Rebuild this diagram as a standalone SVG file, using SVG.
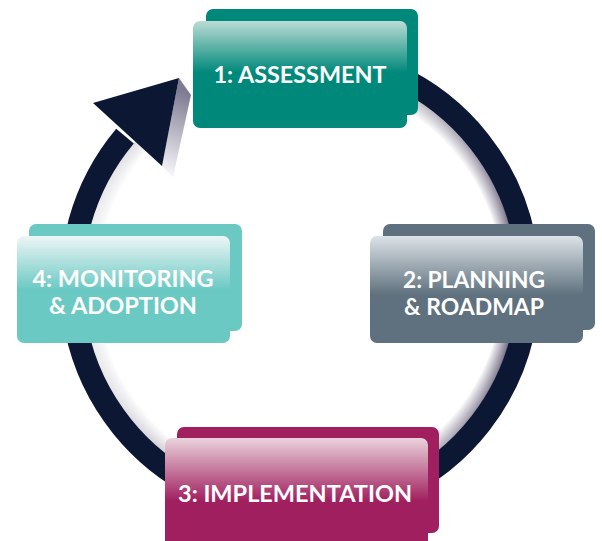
<svg xmlns="http://www.w3.org/2000/svg" width="602" height="541" viewBox="0 0 602 541">
  <defs>
    <style>
      .lbl { font-family: Lato, "Open Sans", "Liberation Sans", sans-serif; font-weight: 700; font-size: 23px; fill: #ffffff; text-anchor: middle; }
      .ring { fill: none; stroke: #0c1734; stroke-width: 23; }
    </style>
    <radialGradient id="bandGrad" gradientUnits="userSpaceOnUse" cx="300" cy="283" r="217">
      <stop offset="0.93" stop-color="#ffffff"/>
      <stop offset="1" stop-color="#544c68"/>
    </radialGradient>
    <radialGradient id="maskGrad" gradientUnits="userSpaceOnUse" cx="560" cy="290" r="480">
      <stop offset="0" stop-color="#ffffff"/>
      <stop offset="0.3" stop-color="#999999"/>
      <stop offset="0.5" stop-color="#5a5a5a"/>
      <stop offset="0.9" stop-color="#404040"/>
      <stop offset="1" stop-color="#151515"/>
    </radialGradient>
    <mask id="bandMask" maskUnits="userSpaceOnUse" x="0" y="0" width="602" height="541">
      <rect x="0" y="0" width="602" height="541" fill="url(#maskGrad)"/>
    </mask>
    <linearGradient id="shadowGrad" gradientUnits="userSpaceOnUse" x1="165" y1="170" x2="192" y2="95">
      <stop offset="0" stop-color="#f2f2f5"/>
      <stop offset="1" stop-color="#7f7b93"/>
    </linearGradient>
    <linearGradient id="g1" x1="0" y1="0" x2="0" y2="1">
      <stop offset="0" stop-color="#bcdcd5"/>
      <stop offset="0.48" stop-color="#00897b"/>
      <stop offset="1" stop-color="#00897b"/>
    </linearGradient>
    <linearGradient id="g2" x1="0" y1="0" x2="0" y2="1">
      <stop offset="0" stop-color="#dce3e7"/>
      <stop offset="0.55" stop-color="#5f717e"/>
      <stop offset="1" stop-color="#5f717e"/>
    </linearGradient>
    <linearGradient id="g3" x1="0" y1="0" x2="0" y2="1">
      <stop offset="0" stop-color="#ead3dc"/>
      <stop offset="0.55" stop-color="#a01f5f"/>
      <stop offset="1" stop-color="#a01f5f"/>
    </linearGradient>
    <linearGradient id="g4" x1="0" y1="0" x2="0" y2="1">
      <stop offset="0" stop-color="#edf6f6"/>
      <stop offset="0.5" stop-color="#6bc9c4"/>
      <stop offset="1" stop-color="#6bc9c4"/>
    </linearGradient>
  </defs>

  <rect x="0" y="0" width="602" height="541" fill="#ffffff"/>

  <g id="connectors">
    <g mask="url(#bandMask)">
      <path d="M300,73 A210,210 0 1 1 143.9,142.5" fill="none" stroke="url(#bandGrad)" stroke-width="15"/>
    </g>
    <path class="ring" d="M300,54.5 A228.5,228.5 0 1 1 125,136.1"/>
    <polygon points="179,78 191,95 173,177 162,166" fill="url(#shadowGrad)"/>
    <polygon points="179,78 93,103 162,166" fill="#0c1734"/>
  </g>

  <g id="node1">
    <rect x="206" y="9" width="212" height="106" rx="7" fill="#00897b"/>
    <rect x="193" y="21" width="214" height="107" rx="7" fill="url(#g1)"/>
    <text class="lbl" x="300" y="83" textLength="173" lengthAdjust="spacingAndGlyphs">1: ASSESSMENT</text>
  </g>

  <g id="node2">
    <rect x="383" y="224" width="212" height="106" rx="7" fill="#5f717e"/>
    <rect x="370" y="236" width="213" height="107" rx="7" fill="url(#g2)"/>
    <text class="lbl" x="474" y="288" textLength="142" lengthAdjust="spacingAndGlyphs">2: PLANNING</text>
    <text class="lbl" x="474" y="315" textLength="140" lengthAdjust="spacingAndGlyphs">&amp; ROADMAP</text>
  </g>

  <g id="node3">
    <rect x="177" y="427" width="262" height="106" rx="7" fill="#a01f5f"/>
    <rect x="165" y="438" width="263" height="115" rx="7" fill="url(#g3)"/>
    <text class="lbl" x="295" y="502" textLength="234" lengthAdjust="spacingAndGlyphs">3: IMPLEMENTATION</text>
  </g>

  <g id="node4">
    <rect x="29" y="224" width="213" height="107" rx="7" fill="#6bc9c4"/>
    <rect x="17" y="236" width="213" height="107" rx="7" fill="url(#g4)"/>
    <text class="lbl" x="123" y="287" textLength="181" lengthAdjust="spacingAndGlyphs">4: MONITORING</text>
    <text class="lbl" x="123" y="314" textLength="148" lengthAdjust="spacingAndGlyphs">&amp; ADOPTION</text>
  </g>
</svg>
